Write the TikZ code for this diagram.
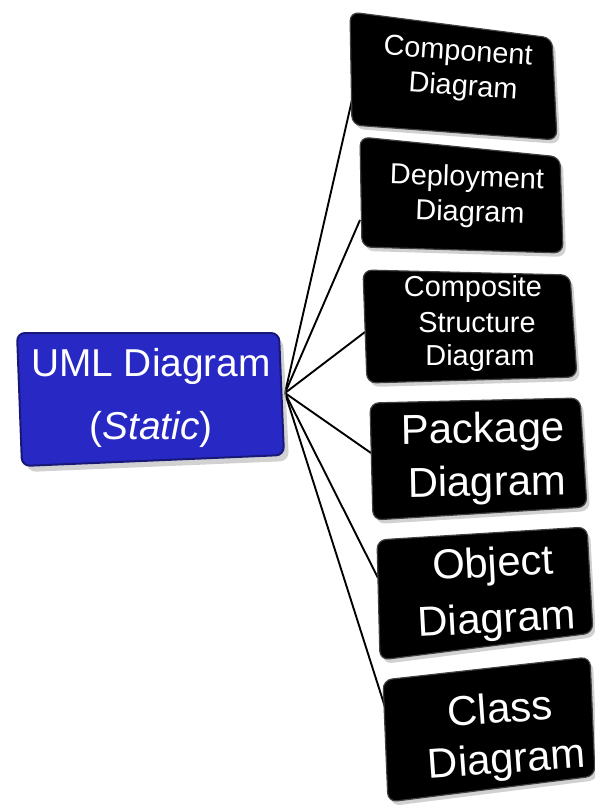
\documentclass[tikz,border=0pt]{standalone}
\usepackage{fontspec}
\setmainfont{Liberation Sans}
\begin{document}
\begin{tikzpicture}[x=1bp,y=-1bp,
  tile/.style={fill=black, draw=black!75, line width=1.2bp, rounded corners=9bp},
  tileshadow/.style={fill=black!30, rounded corners=9bp, opacity=0.6},
  rootbox/.style={fill={rgb,255:red,40;green,40;blue,196}, draw={rgb,255:red,24;green,24;blue,120}, line width=2bp, rounded corners=8bp},
  lbl/.style={text=white, inner sep=0pt},
  small/.style={lbl, font=\fontsize{29}{33}\selectfont},
  big/.style={lbl, font=\fontsize{42}{51}\selectfont},
  link/.style={draw=black, line width=1.9bp}]
\useasboundingbox (0,0) rectangle (595,806);

% hub on the right side of the root box and the left-edge anchors of the tiles
\coordinate (hub) at (285,393);
\coordinate (c1) at (352,100);
\coordinate (c2) at (360,220);
\coordinate (c3) at (365,332);
\coordinate (c4) at (371,453);
\coordinate (c5) at (378,578);
\coordinate (c6) at (385,707);

% connectors
\foreach \c in {c1,c2,c3,c4,c5,c6} \draw[link] (hub) -- (\c);

% root box
\fill[tileshadow] (21,338) -- (283,338) -- (289,461) -- (27,472) -- cycle;
\draw[rootbox] (17,333) -- (279,333) -- (284,455) -- (22,466) -- cycle;
\node[lbl, font=\fontsize{39}{63}\selectfont, align=center] (root) at (151,398) {UML Diagram\\(\textit{Static})};

% tile shadows
\fill[tileshadow] (353,16) -- (555,42) -- (560,144) -- (355,129) -- cycle;
\fill[tileshadow] (363,141) -- (563,161) -- (566,257) -- (365,251) -- cycle;
\fill[tileshadow] (366,274) -- (573,279) -- (580,381) -- (370,387) -- cycle;
\fill[tileshadow] (373,407) -- (583,402) -- (590,511) -- (376,524) -- cycle;
\fill[tileshadow] (380,544) -- (590,531) -- (596,637) -- (383,664) -- cycle;
\fill[tileshadow] (386,684) -- (593,661) -- (598,780) -- (391,806) -- cycle;

% tiles
\draw[tile] (350,12) -- (552,38) -- (557,140) -- (352,125) -- cycle;
\draw[tile] (360,137) -- (560,157) -- (563,253) -- (362,247) -- cycle;
\draw[tile] (363,270) -- (570,275) -- (577,377) -- (367,383) -- cycle;
\draw[tile] (370,403) -- (580,398) -- (587,507) -- (373,520) -- cycle;
\draw[tile] (377,540) -- (587,527) -- (593,633) -- (380,660) -- cycle;
\draw[tile] (383,680) -- (590,657) -- (595,776) -- (388,802) -- cycle;

% tile captions, one node per line so each line follows the tile's tilt
\node[small, rotate=-4] (t1a) at (458,53) {Component};
\node[small, rotate=-4] (t1b) at (463,88) {Diagram};
\node[small, rotate=-2] (t2a) at (467,179) {Deployment};
\node[small, rotate=-2] (t2b) at (470,214) {Diagram};
\node[small] (t3a) at (473,289) {Composite};
\node[small] (t3b) at (477,323) {Structure};
\node[small] (t3c) at (480,358) {Diagram};
\node[big, rotate=1] (t4a) at (483,432) {Package};
\node[big, rotate=1] (t4b) at (487,485) {Diagram};
\node[big, rotate=3] (t5a) at (493,566) {Object};
\node[big, rotate=3] (t5b) at (497,622) {Diagram};
\node[big, rotate=4] (t6a) at (500,708) {Class};
\node[big, rotate=4] (t6b) at (507,762) {Diagram};
\end{tikzpicture}
\end{document}
